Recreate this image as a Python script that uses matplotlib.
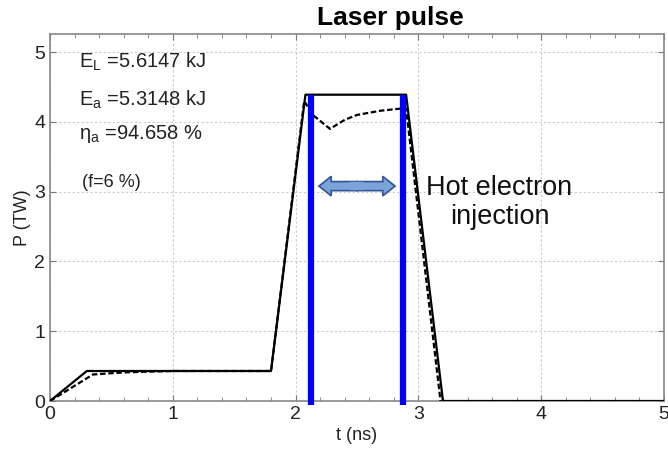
import numpy as np
import matplotlib.pyplot as plt
from matplotlib.ticker import MultipleLocator
from matplotlib.patches import FancyArrow

plt.rcParams['font.family'] = ['Liberation Sans', 'DejaVu Sans']

# laser pulse (solid)
t_pulse = [0.0, 0.3, 1.8, 2.08, 2.9, 3.2, 5.0]
p_pulse = [0.0, 0.43, 0.43, 4.39, 4.39, 0.0, 0.0]

# absorbed power (dashed)
t_abs = [0.0, 0.35, 0.6, 1.0, 1.8, 2.07, 2.14, 2.28, 2.4, 2.5, 2.69, 2.85, 2.9, 3.18]
p_abs = [0.0, 0.38, 0.41, 0.43, 0.43, 4.3, 4.10, 3.90, 4.03, 4.10, 4.16, 4.19, 4.19, 0.0]

# hot electron injection window
t_inj = [2.125, 2.875]
p_top = 4.39

fig = plt.figure(figsize=(6.68, 4.51), dpi=100)
ax = fig.add_axes([50/668, 1 - 401/451, 614/668, 367/451])

ax.plot(t_pulse, p_pulse, color='black', lw=1.6, zorder=3)
ax.plot(t_abs, p_abs, color='black', lw=1.6, ls=(0, (2.5, 1.2)), zorder=3)
for t in t_inj:
    ax.plot([t, t], [-0.06, p_top], color='#0000ff', lw=4.5, zorder=4,
            clip_on=False, solid_capstyle='butt')

# double-headed arrow (two halves meeting in the middle)
arr_y = 3.08
for dx in (0.31, -0.31):
    ax.add_patch(FancyArrow(2.5, arr_y, dx, 0, width=0.13, head_width=0.28,
                            head_length=0.1, length_includes_head=True,
                            fc='#7ba4d9', ec='#2f5597', lw=1.2, zorder=5))
ax.plot([2.44, 2.56], [arr_y, arr_y], color='#7ba4d9', lw=6, zorder=6,
        solid_capstyle='butt')

ax.text(3.66, 2.84, 'Hot electron\ninjection', fontsize=19.5, ha='center', va='center',
        linespacing=1.15, color='#111111')

ax.text(0.24, 4.86, r'E$_\mathregular{L}$ =5.6147 kJ', fontsize=14.5, color='#222222', va='center')
ax.text(0.24, 4.32, r'E$_\mathregular{a}$ =5.3148 kJ', fontsize=14.5, color='#222222', va='center')
ax.text(0.24, 3.82, r'η$_\mathregular{a}$ =94.658 %', fontsize=14.5, color='#222222', va='center')
ax.text(0.26, 3.13, '(f=6 %)', fontsize=13, color='#222222', va='center')

ax.set_xlim(0, 5)
ax.set_ylim(0, 5.26)
ax.xaxis.set_major_locator(MultipleLocator(1))
ax.xaxis.set_minor_locator(MultipleLocator(0.2))
ax.yaxis.set_major_locator(MultipleLocator(1))
ax.tick_params(which='both', direction='in', top=True, right=True, colors='#777777',
               labelcolor='#222222', labelsize=14)
ax.tick_params(which='major', length=4)
ax.tick_params(which='minor', length=3)
ax.grid(True, ls=(0, (2, 2)), color='#cccccc', lw=0.8)
for s in ax.spines.values():
    s.set_color('#888888')
    s.set_linewidth(1.2)

ax.set_xlabel('t (ns)', fontsize=13, labelpad=3, color='#222222')
ax.set_ylabel('P (TW)', fontsize=13, labelpad=2, color='#222222')
fig.text(390/668, 1 - 18/451, 'Laser pulse', fontsize=19, fontweight='bold',
         ha='center', va='center')

fig.savefig('out.png', dpi=100)
